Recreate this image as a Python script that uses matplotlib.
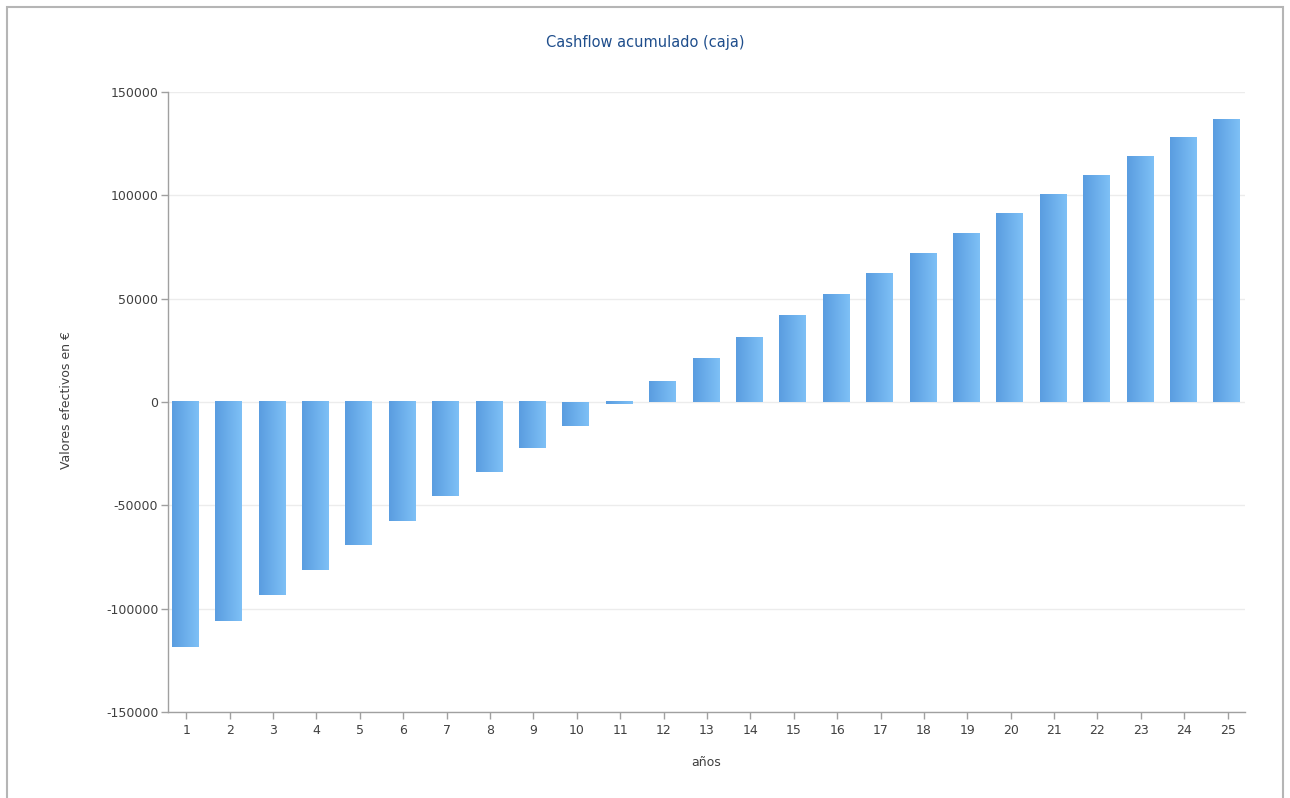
import numpy as np
import matplotlib
matplotlib.use('Agg')
import matplotlib.pyplot as plt
from matplotlib.patches import Rectangle
from matplotlib.colors import LinearSegmentedColormap

plt.rcParams['axes.unicode_minus'] = False

# Data
years = list(range(1, 26))
cashflow = [-118700, -106100, -93600, -81500, -69300, -57700, -45700, -34100,
            -22500, -11400, -500, 10000, 21000, 31200, 41900, 52000, 62200,
            71900, 81500, 91100, 100400, 109700, 118800, 127900, 136800]
yticks = [-150000, -100000, -50000, 0, 50000, 100000, 150000]

title = 'Cashflow acumulado (caja)'
xlabel = 'años'
ylabel = 'Valores efectivos en €'

fig = plt.figure(figsize=(12.9, 7.98), dpi=100)
ax = fig.add_axes([168 / 1290, 1 - 712 / 798, (1245 - 168) / 1290, (712 - 92) / 798])

# outer frame around the whole chart
fig.patches.append(Rectangle((7 / 1290, -0.05), (1283 - 7) / 1290, 1.05 - 7 / 798,
                             transform=fig.transFigure, fill=False,
                             edgecolor='#b5b5b5', linewidth=1.5))

# bars with horizontal gradient
cmap = LinearSegmentedColormap.from_list('bar', ['#5a9de0', '#7ec0f6'])
grad = np.linspace(0, 1, 64).reshape(1, -1)
width = 0.6
bars = ax.bar(np.array(years) - 0.03, cashflow, width=width, color='none',
              edgecolor='none', zorder=2)
for b in bars:
    x0 = b.get_x()
    y0, y1 = sorted([0, b.get_height()])
    if y1 - y0 < 600:
        y0, y1 = y0 - 300, y1 + 300
    ax.imshow(grad, cmap=cmap, aspect='auto', extent=(x0, x0 + width, y0, y1),
              zorder=2, interpolation='bilinear')

ax.set_xlim(0.58, 25.4)
ax.set_ylim(-150000, 150000)

ax.set_yticks(yticks)
ax.set_xticks(years)
ax.set_xticklabels([str(y) for y in years])
ax.grid(axis='y', color='#ececec', linewidth=1, zorder=0)
ax.set_axisbelow(True)

for s in ['top', 'right']:
    ax.spines[s].set_visible(False)
for s in ['left', 'bottom']:
    ax.spines[s].set_color('#a0a0a0')
    ax.spines[s].set_linewidth(1)

ax.tick_params(axis='both', colors='#a0a0a0', labelcolor='#404040', labelsize=9,
               length=5, width=1)
ax.tick_params(axis='x', pad=4)
ax.tick_params(axis='y', pad=2)

fig.text(645 / 1290, 1 - 43 / 798, title, ha='center', va='center',
         fontsize=10.5, color='#1f4e8c')
fig.text(706 / 1290, 1 - 762 / 798, xlabel, ha='center', va='center',
         fontsize=9, color='#404040')
fig.text(66 / 1290, 1 - 400 / 798, ylabel, ha='center', va='center',
         rotation=90, fontsize=9, color='#404040')

fig.savefig('out.png', dpi=100)
